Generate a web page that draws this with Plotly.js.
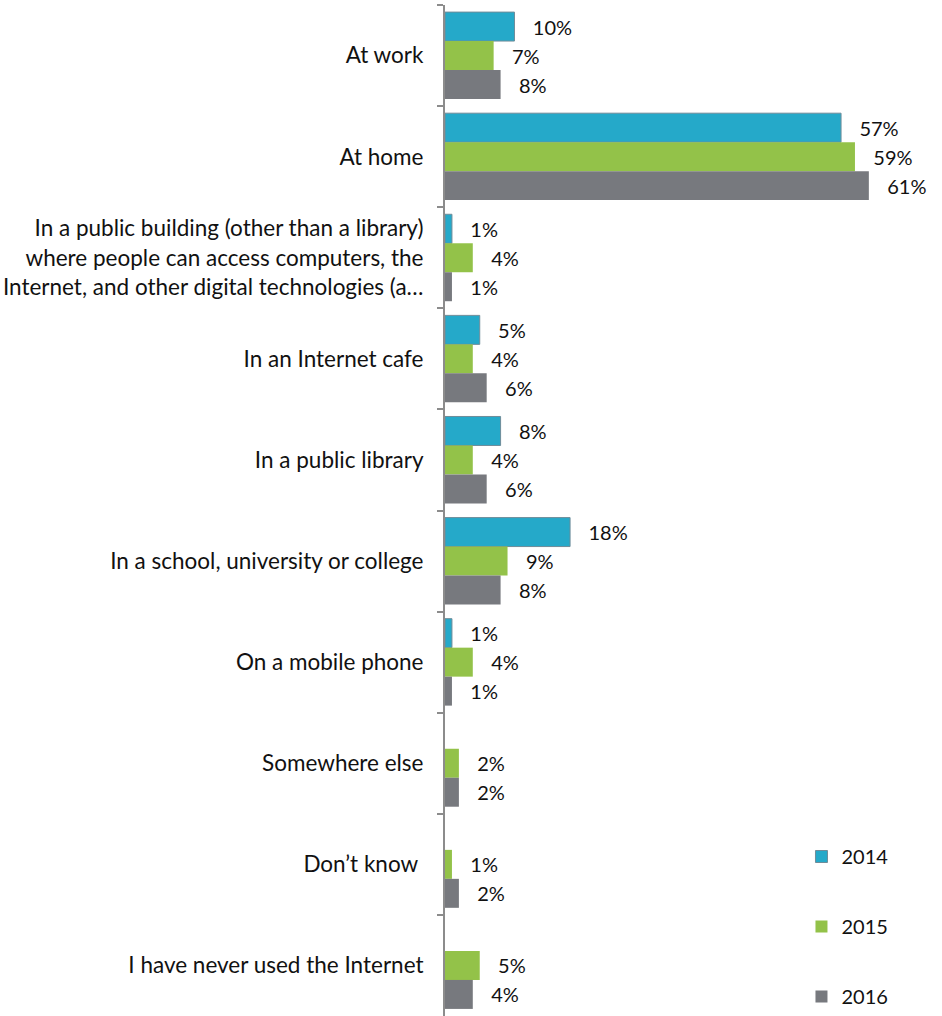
<!DOCTYPE html>
<html>
<head>
<meta charset="utf-8">
<script src="https://cdn.plot.ly/plotly-3.0.1.min.js"></script>
<style>html,body{margin:0;padding:0;background:#fff;}#chart{width:942px;height:1016px;}</style>
</head>
<body>
<div id="chart"></div>
<script>
const categories = [
  "At work",
  "At home",
  "In a public building (other than a library)<br>where people can access computers, the<br>Internet, and other digital technologies (a…",
  "In an Internet cafe",
  "In a public library",
  "In a school, university or college",
  "On a mobile phone",
  "Somewhere else",
  "Don’t know ",
  "I have never used the Internet"
];
const years = ["2014", "2015", "2016"];
const values2014 = [10, 57, 1, 5, 8, 18, 1, null, null, null];
const values2015 = [7, 59, 4, 4, 4, 9, 4, 2, 1, 5];
const values2016 = [8, 61, 1, 6, 6, 8, 1, 2, 2, 4];
const colors = ["#25A9C9", "#93C249", "#77797E"];

const series = [values2014, values2015, values2016];
const pad = "\u00a0\u00a0\u00a0";
const traces = series.map((vals, i) => ({
  type: "bar",
  orientation: "h",
  name: years[i],
  legendgroup: years[i],
  y: categories,
  x: vals,
  text: vals.map(v => v === null ? "" : pad + v + "%"),
  textposition: "outside",
  constraintext: "none",
  cliponaxis: false,
  textfont: {family: "Lato, sans-serif", size: 20, color: "#111"},
  marker: {
    color: colors[i],
    line: i === 0 ? {color: "#6f8c99", width: 1} : {width: 0}
  },
  hoverinfo: "none"
}));

const layout = {
  width: 942,
  height: 1016,
  margin: {l: 445, r: 12, t: 5, b: 0},
  paper_bgcolor: "#fff",
  plot_bgcolor: "#fff",
  barmode: "group",
  bargap: 0.14,
  bargroupgap: 0,
  showlegend: true,
  legend: {
    x: 0.735, xanchor: "left",
    y: 0, yanchor: "bottom",
    traceorder: "grouped",
    tracegroupgap: 41,
    font: {family: "Lato, sans-serif", size: 20, color: "#111"},
    itemwidth: 30
  },
  xaxis: {
    range: [0, 69.8],
    visible: false,
    showgrid: false,
    zeroline: false
  },
  yaxis: {
    type: "category",
    autorange: "reversed",
    showline: true,
    linecolor: "#8c8c8c",
    linewidth: 2,
    ticks: "outside",
    tickson: "boundaries",
    ticklen: 6,
    tickwidth: 2,
    tickcolor: "#8c8c8c",
    ticklabelstandoff: 15,
    showgrid: false,
    zeroline: false,
    tickfont: {family: "Lato, sans-serif", size: 22.5, color: "#111"}
  }
};

Plotly.newPlot("chart", traces, layout, {displayModeBar: false, staticPlot: true});
</script>
</body>
</html>
